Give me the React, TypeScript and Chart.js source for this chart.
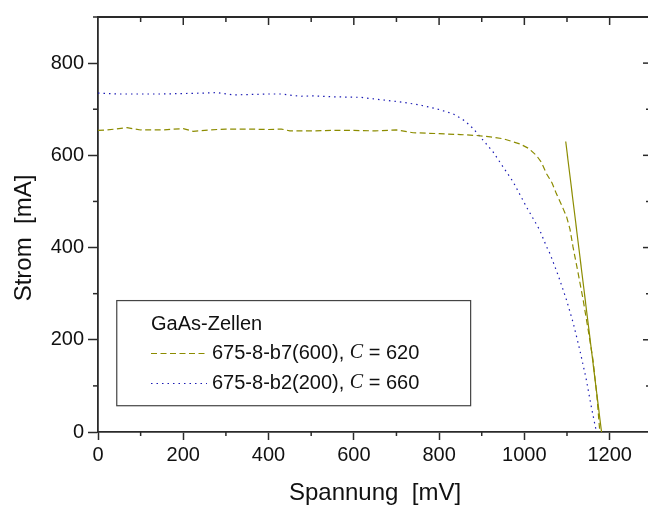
import React, { useEffect, useRef } from "react";
import { Chart, registerables } from "chart.js";

Chart.register(...registerables);

const b7X = [0, 20, 40, 68, 100, 150, 200, 223, 260, 300, 350, 400, 430, 450, 500, 550, 600, 650, 700, 739, 770, 800, 850, 888, 920, 950, 989, 1010, 1028, 1040, 1052, 1065, 1075, 1087, 1099, 1107, 1114, 1125, 1138, 1150, 1161, 1170, 1177];
const b7Y = [654, 655, 657, 660, 655, 655, 658, 652, 655, 657, 657, 656, 657, 653, 653, 654, 654, 653, 655, 649, 648, 647, 645, 643, 640, 636, 625, 615, 600, 585, 560, 540, 517, 493, 467, 440, 402, 350, 286, 220, 156, 80, 0];

const b2X = [0, 50, 100, 150, 200, 250, 278, 317, 400, 430, 474, 500, 550, 600, 614, 650, 708, 750, 794, 833, 860, 880, 903, 927, 950, 974, 1005, 1036, 1052, 1060, 1080, 1099, 1115, 1130, 1145, 1157, 1169];
const b2Y = [735, 733, 733, 733, 734, 735, 736, 731, 733, 733, 728, 729, 727, 726, 726, 722, 716, 710, 701, 690, 675, 658, 633, 607, 575, 542, 488, 438, 402, 387, 338, 286, 235, 178, 115, 55, 0];

const fitX = [1097, 1181];
const fitY = [630, 0];

const legendTitle = "GaAs-Zellen";
const legendNames = ["675-8-b7(600), ", "675-8-b2(200), "];
const legendC = ["620", "660"];

const xTickValues = [0, 200, 400, 600, 800, 1000, 1200];
const yTickValues = [0, 200, 400, 600, 800];

const OLIVE = "#8c8c00";
const BLUE = "#1a1ab4";
const AXIS = "#2a2a2a";

const toPts = (xs: number[], ys: number[]) => xs.map((x, i) => ({ x, y: ys[i] }));

const decor = {
  id: "decor",
  afterDraw(chart: any) {
    const { ctx, chartArea, scales } = chart;
    const xs = scales.x;
    const ys = scales.y;
    const { left, right, top, bottom } = chartArea;
    ctx.save();
    ctx.strokeStyle = AXIS;
    ctx.lineWidth = 1.8;
    ctx.beginPath();
    ctx.moveTo(left, top);
    ctx.lineTo(right, top);
    ctx.stroke();
    ctx.lineWidth = 1.5;
    for (let v = 100; v <= 1290; v += 100) {
      const px = xs.getPixelForValue(v);
      const major = v % 200 === 0;
      ctx.beginPath();
      ctx.moveTo(px, top);
      ctx.lineTo(px, top + (major ? 8 : 5));
      ctx.stroke();
      if (!major) {
        ctx.beginPath();
        ctx.moveTo(px, bottom);
        ctx.lineTo(px, bottom + 4);
        ctx.stroke();
      }
    }
    for (let v = 100; v <= 900; v += 100) {
      const py = ys.getPixelForValue(v);
      const major = v % 200 === 0;
      if (!major) {
        ctx.beginPath();
        ctx.moveTo(left - 5, py);
        ctx.lineTo(left, py);
        ctx.stroke();
      }
      ctx.beginPath();
      ctx.moveTo(right, py);
      ctx.lineTo(right - (major ? 5 : 2), py);
      ctx.stroke();
    }
    ctx.fillStyle = "#111";
    ctx.font = "24px 'Liberation Sans', Arial, sans-serif";
    ctx.textAlign = "center";
    ctx.textBaseline = "alphabetic";
    ctx.fillText("Spannung  [mV]", 375, 500);
    ctx.save();
    ctx.translate(31, 238);
    ctx.rotate(-Math.PI / 2);
    ctx.fillText("Strom  [mA]", 0, 0);
    ctx.restore();

    const bx = xs.getPixelForValue(44);
    const bx2 = xs.getPixelForValue(874);
    const by = ys.getPixelForValue(285);
    const by2 = ys.getPixelForValue(57);
    ctx.fillStyle = "#ffffff";
    ctx.fillRect(bx, by, bx2 - bx, by2 - by);
    ctx.strokeStyle = "#444";
    ctx.lineWidth = 1.2;
    ctx.strokeRect(bx, by, bx2 - bx, by2 - by);
    ctx.fillStyle = "#111";
    ctx.textAlign = "left";
    ctx.textBaseline = "middle";
    ctx.font = "20px 'Liberation Sans', Arial, sans-serif";
    ctx.fillText(legendTitle, 151, 324);
    const rows = [353, 383];
    const styles = [
      { color: OLIVE, dash: [6, 3.5] },
      { color: BLUE, dash: [1.5, 4] },
    ];
    rows.forEach((ry, i) => {
      ctx.save();
      ctx.strokeStyle = styles[i].color;
      ctx.lineWidth = 1;
      ctx.setLineDash(styles[i].dash);
      ctx.beginPath();
      ctx.moveTo(151, ry + 0.5);
      ctx.lineTo(207, ry + 0.5);
      ctx.stroke();
      ctx.restore();
      let tx = 212;
      ctx.font = "20px 'Liberation Sans', Arial, sans-serif";
      ctx.fillText(legendNames[i], tx, ry);
      tx += ctx.measureText(legendNames[i]).width;
      ctx.font = "italic 20px 'Liberation Serif', 'Times New Roman', serif";
      ctx.fillText("C", tx, ry);
      tx += ctx.measureText("C").width;
      ctx.font = "20px 'Liberation Sans', Arial, sans-serif";
      ctx.fillText(" = " + legendC[i], tx, ry);
    });
    ctx.restore();
  },
};

export default function App() {
  const ref = useRef<HTMLCanvasElement | null>(null);
  useEffect(() => {
    if (!ref.current) return;
    const tickFont = { family: "'Liberation Sans', Arial, sans-serif", size: 20 };
    const chart = new Chart(ref.current, {
      type: "line",
      data: {
        datasets: [
          {
            label: "b7",
            data: toPts(b7X, b7Y),
            borderColor: OLIVE,
            borderWidth: 1.2,
            borderDash: [6, 3.5],
            pointRadius: 0,
            tension: 0,
            fill: false,
          },
          {
            label: "b2",
            data: toPts(b2X, b2Y),
            borderColor: BLUE,
            borderWidth: 1.2,
            borderDash: [1.5, 4],
            pointRadius: 0,
            tension: 0,
            fill: false,
          },
          {
            label: "fit",
            data: toPts(fitX, fitY),
            borderColor: OLIVE,
            borderWidth: 1.2,
            pointRadius: 0,
            fill: false,
          },
        ],
      },
      options: {
        animation: false,
        responsive: true,
        maintainAspectRatio: false,
        layout: { padding: { top: 17, left: 0, right: 0, bottom: 0 } },
        plugins: { legend: { display: false }, tooltip: { enabled: false } },
        scales: {
          x: {
            type: "linear",
            min: 0,
            max: 1290,
            afterBuildTicks: (s: any) => {
              s.ticks = xTickValues.map((v) => ({ value: v }));
            },
            afterFit: (s: any) => {
              s.height = 74;
            },
            ticks: { color: "#111", font: tickFont, padding: 3, maxRotation: 0, autoSkip: false, callback: (v: any) => String(v) },
            grid: { drawOnChartArea: false, drawTicks: true, tickLength: 8, tickColor: AXIS, tickWidth: 1.5 },
            border: { display: true, color: AXIS, width: 1.8 },
          },
          y: {
            type: "linear",
            min: 0,
            max: 900,
            afterBuildTicks: (s: any) => {
              s.ticks = yTickValues.map((v) => ({ value: v }));
            },
            afterFit: (s: any) => {
              s.width = 98;
            },
            ticks: { color: "#111", font: tickFont, padding: 4, autoSkip: false, callback: (v: any) => String(v) },
            grid: { drawOnChartArea: false, drawTicks: true, tickLength: 10, tickColor: AXIS, tickWidth: 1.5 },
            border: { display: true, color: AXIS, width: 1.8 },
          },
        },
      },
      plugins: [decor],
    } as any);
    return () => chart.destroy();
  }, []);
  return (
    <div style={{ position: "fixed", left: 0, top: 0, width: 648, height: 506, background: "#fff" }}>
      <canvas ref={ref} />
    </div>
  );
}
